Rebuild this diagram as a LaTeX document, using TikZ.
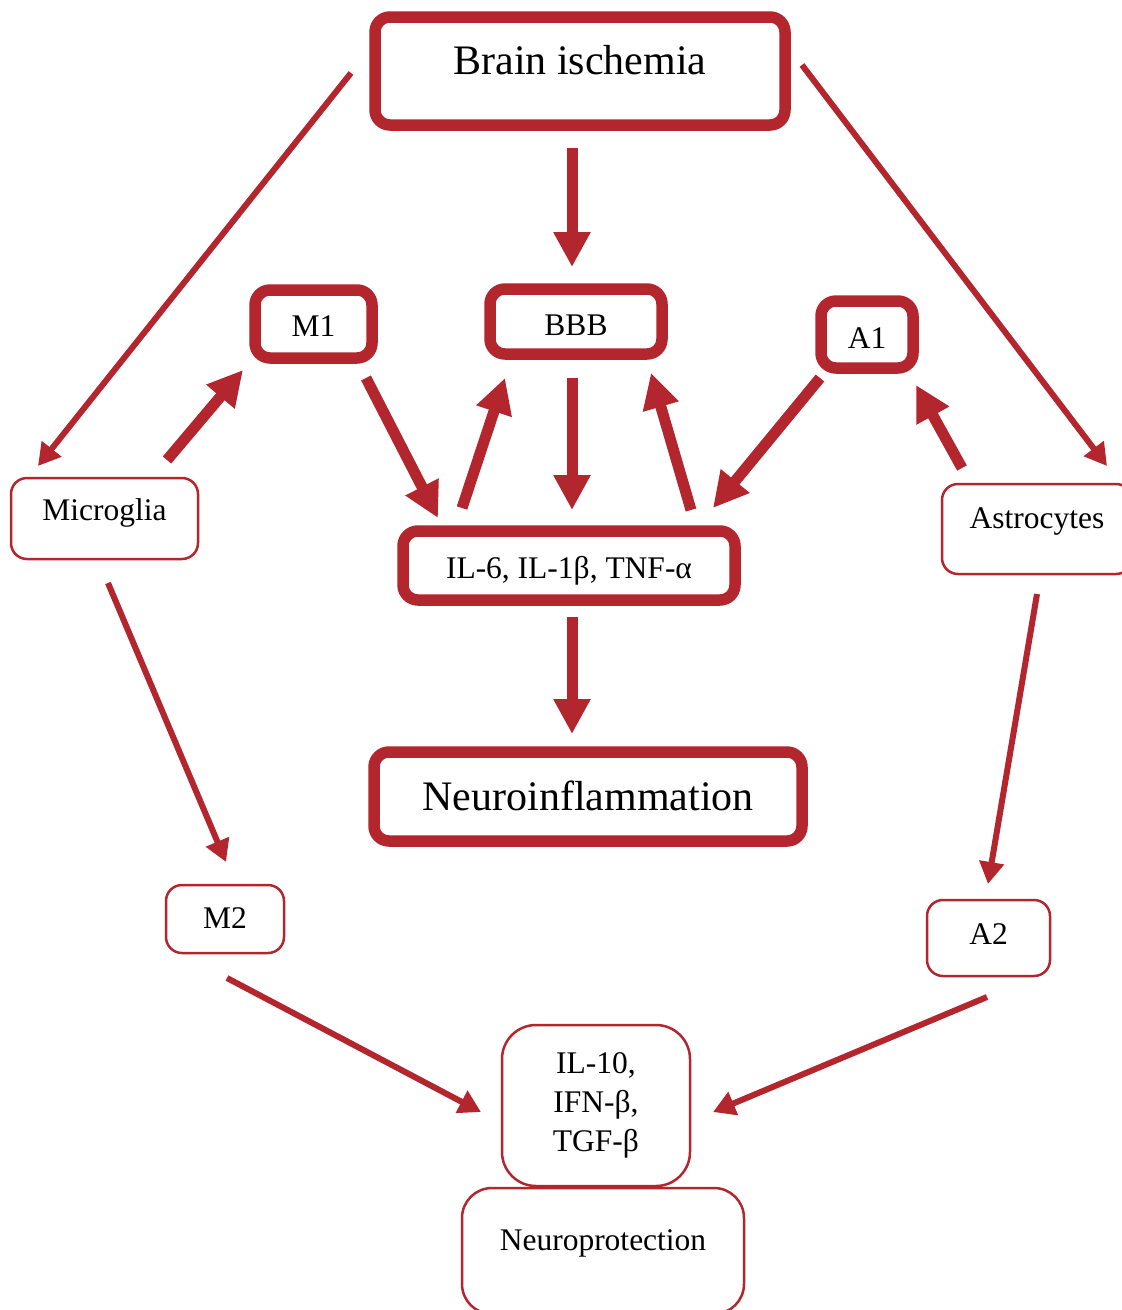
\documentclass[tikz,border=0pt]{standalone}
\usepackage{fontspec}
\setmainfont{Liberation Serif}
\usetikzlibrary{arrows.meta,calc}
\definecolor{ischred}{RGB}{179,38,46}

\begin{document}
\begin{tikzpicture}[x=1pt,y=-1pt,line join=round,
  big/.style={font=\fontsize{42}{50}\selectfont,text height=36pt,text depth=8.5pt},
  small/.style={font=\fontsize{31.5}{39}\selectfont,text height=29pt,text depth=4pt},
  heavy/.style={draw=ischred,line width=11.5pt,rounded corners=15pt,inner sep=2pt,outer sep=0pt},
  light/.style={draw=ischred,line width=2.5pt,rounded corners=16pt,inner sep=2pt,outer sep=0pt},
  fat/.style={draw=ischred,line width=11pt,-{Triangle[width=35pt,length=35pt]}},
  slim/.style={draw=ischred,line width=6pt,-{Triangle[width=24pt,length=22pt]}}]
        \useasboundingbox (0,0) rectangle (1122,1310);
        \clip (0,0) rectangle (1122,1310);
        \node[heavy,big,text depth=28.5pt,minimum width=410pt,minimum height=108pt] (brain) at (580,71) {Brain ischemia};
        \node[heavy,small,text depth=1.4pt,minimum width=172pt,minimum height=65pt] (bbb) at (576,321.5) {BBB};
        \node[heavy,small,text depth=4.4pt,minimum width=117pt,minimum height=68pt] (mone) at (313.5,324) {M1};
        \node[heavy,small,text depth=1.4pt,minimum width=92pt,minimum height=67pt] (aone) at (867,334.5) {A1};
        \node[heavy,small,text depth=3.4pt,minimum width=332pt,minimum height=69pt] (cyto) at (569,565.5) {IL-6, IL-1β, TNF-α};
        \node[heavy,big,minimum width=428pt,minimum height=89pt] (neuro) at (588,796.5) {Neuroinflammation};
        \node[light,small,text depth=24.4pt,minimum width=187pt,minimum height=81pt] (micro) at (104.5,518.5) {Microglia};
        \node[light,small,text depth=30.4pt,minimum width=190pt,minimum height=90pt] (astro) at (1037,529) {Astrocytes};
        \node[light,small,text depth=10.4pt,minimum width=118pt,minimum height=68pt] (mtwo) at (225,919) {M2};
        \node[light,small,text depth=16.4pt,minimum width=123pt,minimum height=76pt] (atwo) at (988.5,938) {A2};
        \node[light,font=\fontsize{31.5}{39}\selectfont,align=center,rounded corners=34pt,minimum width=188pt,minimum height=161pt] (anti) at (596,1105.5) {IL-10,\\IFN-β,\\TGF-β};
        \node[light,small,text depth=30.4pt,rounded corners=30pt,minimum width=282pt,minimum height=126pt] (prot) at (603,1251) {Neuroprotection};
        \draw[slim] ($(brain.west)+(-24,2)$) -- ($(micro.north west)+(27,-12)$);
        \draw[slim] ($(brain.east)+(17,-6)$) -- ($(astro.north east)+(-25,-18)$);
        \draw[slim] ($(micro.south)+(3.5,24)$) -- ($(mtwo.north)+(1,-23)$);
        \draw[slim] ($(astro.south)+(0,20)$) -- ($(atwo.north)+(-0.5,-16)$);
        \draw[slim] ($(mtwo.south)+(2,25)$) -- ($(anti.west)+(-21,6.5)$);
        \draw[slim] ($(atwo.south)+(-1.5,21)$) -- ($(anti.east)+(23,6.5)$);
        \draw[fat] ($(brain.south)+(-8,23)$) -- ($(bbb.north)+(-4,-22)$);
        \draw[fat] ($(micro.north)+(62.5,-18)$) -- ($(mone.south west)+(-12,12)$);
        \draw[fat] ($(mone.south east)+(-6,20)$) -- ($(cyto.north west)+(35,-13)$);
        \draw[fat] ($(cyto.north west)+(59,-23)$) -- ($(bbb.south west)+(15,24)$);
        \draw[fat] ($(bbb.south)+(-4,24)$) -- ($(cyto.north)+(3,-21)$);
        \draw[fat] ($(cyto.north east)+(-44,-21)$) -- ($(bbb.south east)+(-11,19)$);
        \draw[fat] ($(aone.south west)+(-1,10)$) -- ($(cyto.north east)+(-22,-23)$);
        \draw[fat] ($(astro.north west)+(20,-16)$) -- ($(aone.south east)+(3,17)$);
        \draw[fat] ($(cyto.south)+(3,17)$) -- ($(neuro.north)+(-16,-18)$);
\end{tikzpicture}
\end{document}
